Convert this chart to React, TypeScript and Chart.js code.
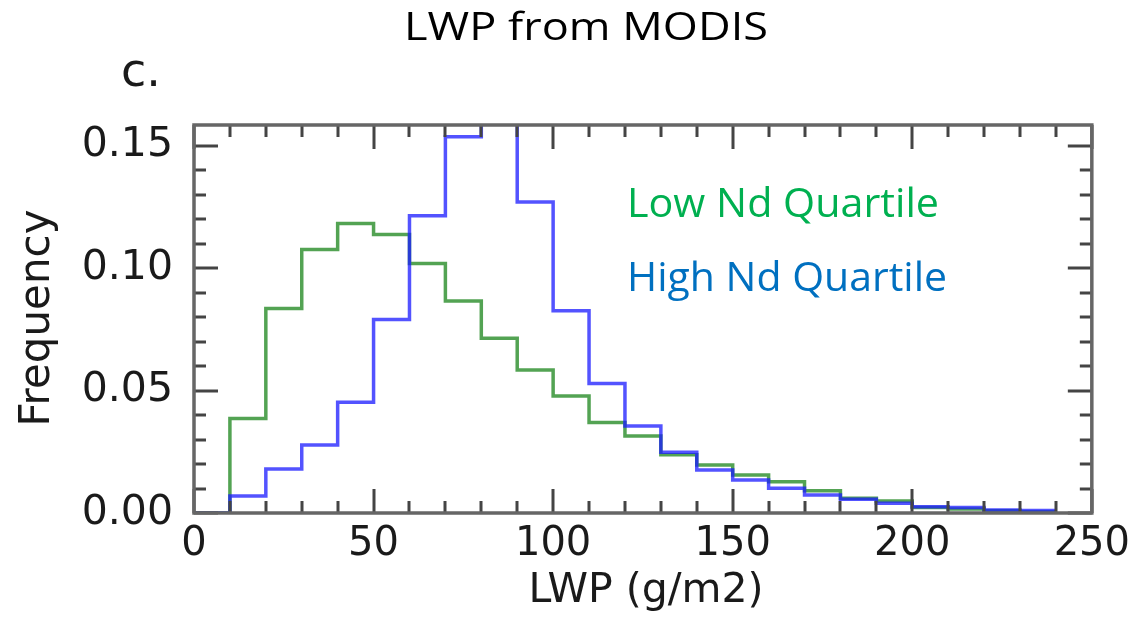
import React, { useEffect, useRef } from "react";
import { Chart, registerables } from "chart.js";

Chart.register(...registerables);

// Histogram bins (left edges, g/m2); each bin is 10 g/m2 wide
const binStarts = [0, 10, 20, 30, 40, 50, 60, 70, 80, 90, 100, 110, 120, 130, 140, 150, 160, 170, 180, 190, 200, 210, 220, 230];
const binLastEdge = 240;

// Low Nd Quartile (green)
const lowNd = [0.0, 0.0386, 0.0835, 0.1076, 0.1182, 0.1137, 0.1019, 0.0865, 0.0713, 0.0584, 0.0478, 0.0369, 0.0314, 0.0238, 0.0196, 0.0155, 0.0128, 0.0091, 0.0060, 0.0049, 0.0022, 0.0016, 0.0009, 0.0005];
// High Nd Quartile (blue)
const highNd = [0.0, 0.0069, 0.018, 0.0278, 0.0452, 0.079, 0.1214, 0.1536, 0.175, 0.127, 0.0826, 0.0529, 0.0355, 0.0248, 0.0176, 0.0135, 0.0101, 0.0073, 0.0056, 0.0040, 0.0026, 0.0022, 0.0012, 0.0010];

const xTickValues = [0, 50, 100, 150, 200, 250];
const yTickValues = [0, 0.05, 0.1, 0.15];
const xMinorStep = 10;
const yMinorStep = 0.01;

const xMin = 0;
const xMax = 250;
const yMin = 0;
const yMax = 0.1584;

const chartTitle = "LWP from MODIS";
const panelLabel = "c.";
const xTitle = "LWP (g/m2)";
const yTitle = "Frequency";
const lowLabel = "Low Nd Quartile";
const highLabel = "High Nd Quartile";

function toSteps(values: number[]) {
  const pts = values.map((v, i) => ({ x: binStarts[i], y: v }));
  pts.push({ x: binLastEdge, y: values[values.length - 1] });
  return pts;
}

function fitText(ctx: CanvasRenderingContext2D, text: string, x: number, y: number, width: number, align: "left" | "center") {
  const w = ctx.measureText(text).width;
  const sx = width / w;
  ctx.save();
  ctx.translate(x, y);
  ctx.scale(sx, 1);
  ctx.textAlign = align;
  ctx.fillText(text, 0, 0);
  ctx.restore();
}

const framePlugin = {
  id: "framePlugin",
  afterDraw(chart: any) {
    const { ctx, chartArea } = chart;
    const xs = chart.scales.x;
    const ys = chart.scales.y;
    const { left, right, top, bottom } = chartArea;
    ctx.save();
    // ticks
    ctx.strokeStyle = "#444444";
    ctx.lineWidth = 3;
    const majorLen = 24;
    const minorLen = 12;
    ctx.beginPath();
    for (let v = xMin; v <= xMax + 1e-9; v += xMinorStep) {
      const isMajor = xTickValues.some((t) => Math.abs(t - v) < 1e-6);
      const len = isMajor ? majorLen : minorLen;
      const px = Math.round(xs.getPixelForValue(v));
      ctx.moveTo(px, bottom);
      ctx.lineTo(px, bottom - len);
      ctx.moveTo(px, top);
      ctx.lineTo(px, top + len);
    }
    for (let k = 0; k <= 15; k++) {
      const v = k * yMinorStep;
      const isMajor = yTickValues.some((t) => Math.abs(t - v) < 1e-6);
      const len = isMajor ? majorLen : minorLen;
      const py = Math.round(ys.getPixelForValue(v));
      ctx.moveTo(left, py);
      ctx.lineTo(left + len, py);
      ctx.moveTo(right, py);
      ctx.lineTo(right - len, py);
    }
    ctx.stroke();
    // frame
    ctx.strokeStyle = "#666666";
    ctx.lineWidth = 3.5;
    ctx.strokeRect(left, top, right - left, bottom - top);

    // texts
    ctx.textBaseline = "alphabetic";
    ctx.fillStyle = "#000000";
    ctx.font = "39px 'Open Sans'";
    fitText(ctx, chartTitle, 586, 40, 364, "center");

    ctx.fillStyle = "#1a1a1a";
    ctx.font = "46px 'DejaVu Sans'";
    ctx.textAlign = "left";
    ctx.fillText(panelLabel, 121, 86);

    ctx.font = "41px 'DejaVu Sans'";
    ctx.textAlign = "center";
    ctx.fillText(xTitle, 646, 602);

    ctx.save();
    ctx.font = "42px 'DejaVu Sans'";
    ctx.translate(49, 318);
    ctx.rotate(-Math.PI / 2);
    ctx.fillText(yTitle, 0, 0);
    ctx.restore();

    ctx.font = "40px 'Open Sans'";
    ctx.fillStyle = "#00b050";
    fitText(ctx, lowLabel, 627, 217, 312, "left");
    ctx.fillStyle = "#0070c0";
    fitText(ctx, highLabel, 627, 291, 320, "left");
    ctx.restore();
  },
};

export default function App() {
  const canvasRef = useRef<HTMLCanvasElement | null>(null);

  useEffect(() => {
    document.body.style.margin = "0";
    const canvas = canvasRef.current;
    if (!canvas) return;
    const chart = new Chart(canvas, {
      type: "line",
      data: {
        datasets: [
          {
            label: highLabel,
            data: toSteps(highNd),
            borderColor: "rgba(25,25,255,0.75)",
            backgroundColor: "rgba(25,25,255,0.75)",
            borderWidth: 3.5,
            stepped: true,
            pointRadius: 0,
            fill: false,
          },
          {
            label: lowLabel,
            data: toSteps(lowNd),
            borderColor: "rgba(40,140,40,0.8)",
            backgroundColor: "rgba(40,140,40,0.8)",
            borderWidth: 3.5,
            stepped: true,
            pointRadius: 0,
            fill: false,
          },
        ],
      },
      options: {
        responsive: false,
        animation: false,
        layout: { padding: { left: 0, top: 125, right: 44, bottom: 0 } },
        plugins: {
          legend: { display: false },
          title: { display: false },
          tooltip: { enabled: false },
        },
        scales: {
          x: {
            type: "linear",
            min: xMin,
            max: xMax,
            afterFit: (s: any) => {
              s.height = 104;
            },
            afterBuildTicks: (s: any) => {
              s.ticks = xTickValues.map((v) => ({ value: v }));
            },
            ticks: {
              color: "#1a1a1a",
              font: { family: "'DejaVu Sans'", size: 40 },
              padding: 8,
              maxRotation: 0,
              autoSkip: false,
              callback: (v: any) => String(v),
            },
            grid: { display: false, drawTicks: false },
            border: { display: false },
          },
          y: {
            type: "linear",
            min: yMin,
            max: yMax,
            afterFit: (s: any) => {
              s.width = 194;
            },
            afterBuildTicks: (s: any) => {
              s.ticks = yTickValues.map((v) => ({ value: v }));
            },
            ticks: {
              color: "#1a1a1a",
              font: { family: "'DejaVu Sans'", size: 41 },
              padding: 21,
              autoSkip: false,
              callback: (v: any) => Number(v).toFixed(2),
            },
            grid: { display: false, drawTicks: false },
            border: { display: false },
          },
        },
      },
      plugins: [framePlugin],
    });
    return () => chart.destroy();
  }, []);

  return (
    <div style={{ position: "absolute", left: 0, top: 0, width: 1138, height: 617, background: "#ffffff" }}>
      <canvas ref={canvasRef} width={1138} height={617} />
    </div>
  );
}
